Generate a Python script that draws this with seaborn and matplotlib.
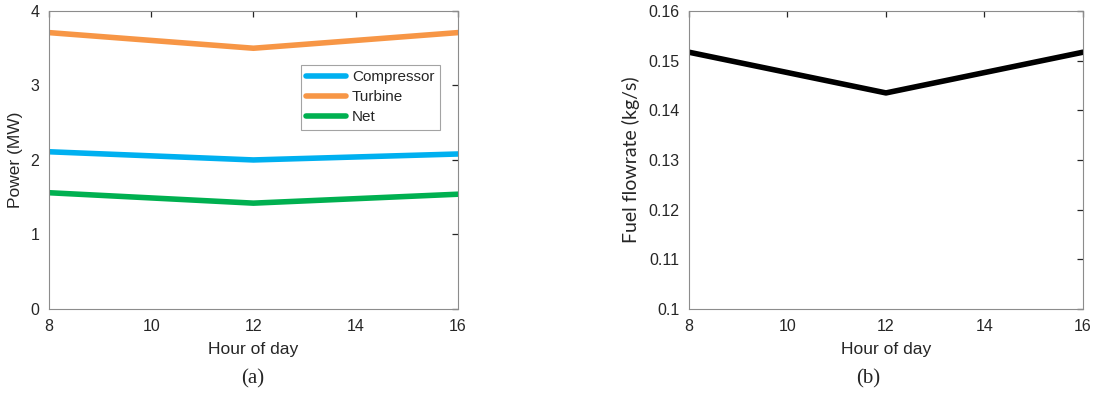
import pandas as pd
import numpy as np

import matplotlib
matplotlib.use("Agg")
import matplotlib.pyplot as plt
import seaborn as sns

sns.set_style('white')
plt.rcParams['font.family'] = ['Liberation Sans', 'DejaVu Sans']

# data
hours = [8, 12, 16]
compressor = [2.11, 2.00, 2.08]
turbine = [3.71, 3.50, 3.71]
net = [1.56, 1.42, 1.54]
fuel = [0.1517, 0.1435, 0.1517]

series_names = ['Compressor', 'Turbine', 'Net']
series_colors = ['#00B0F0', '#F79646', '#00B050']

power_df = pd.DataFrame({
    'hour': hours * 3,
    'power': compressor + turbine + net,
    'series': [s for s in series_names for _ in hours],
})
fuel_df = pd.DataFrame({'hour': hours, 'fuel': fuel})

fig = plt.figure(figsize=(10.95, 3.93), dpi=100)
ax1 = fig.add_axes([0.0447, 0.214, 0.3735, 0.758])
ax2 = fig.add_axes([0.6292, 0.214, 0.3598, 0.758])

tick_col = '#262626'

sns.lineplot(data=power_df, x='hour', y='power', hue='series',
             hue_order=series_names, palette=series_colors,
             linewidth=4, ax=ax1)
sns.lineplot(data=fuel_df, x='hour', y='fuel', color='black',
             linewidth=4, ax=ax2)

ax1.set_ylim(0, 4)
ax1.set_yticks([0, 1, 2, 3, 4])
ax2.set_ylim(0.1, 0.16)
ax2.set_yticks([0.1, 0.11, 0.12, 0.13, 0.14, 0.15, 0.16])
ax2.set_yticklabels(['0.1', '0.11', '0.12', '0.13', '0.14', '0.15', '0.16'])

for ax in (ax1, ax2):
    ax.set_xlim(8, 16)
    ax.set_xticks([8, 10, 12, 14, 16])
    ax.tick_params(direction='in', top=True, right=True, length=4,
                   width=0.9, colors=tick_col, labelsize=11.5, pad=7)
    for sp in ax.spines.values():
        sp.set_color('#8c8c8c')
        sp.set_linewidth(0.8)
    ax.set_xlabel('Hour of day', fontsize=12.5, color=tick_col, labelpad=6)

ax1.set_ylabel('Power (MW)', fontsize=12.5, color=tick_col, labelpad=5)
ax2.set_ylabel('Fuel flowrate (kg/s)', fontsize=14, color=tick_col,
               family=['Lato', 'DejaVu Sans'], labelpad=6)

leg = ax1.legend(loc='upper right', bbox_to_anchor=(0.956, 0.819),
                 borderaxespad=0, fontsize=11, frameon=True, fancybox=False,
                 handlelength=2.6, borderpad=0.35, labelspacing=0.4,
                 handletextpad=0.4)
leg.get_frame().set_edgecolor('#8c8c8c')
leg.get_frame().set_linewidth(0.8)
for t in leg.get_texts():
    t.set_color(tick_col)

fig.text(0.231, 0.035, '(a)', ha='center', va='center', fontsize=15,
         family=['Liberation Serif', 'DejaVu Serif'])
fig.text(0.793, 0.035, '(b)', ha='center', va='center', fontsize=15,
         family=['Liberation Serif', 'DejaVu Serif'])

fig.savefig('out.png', dpi=100)
